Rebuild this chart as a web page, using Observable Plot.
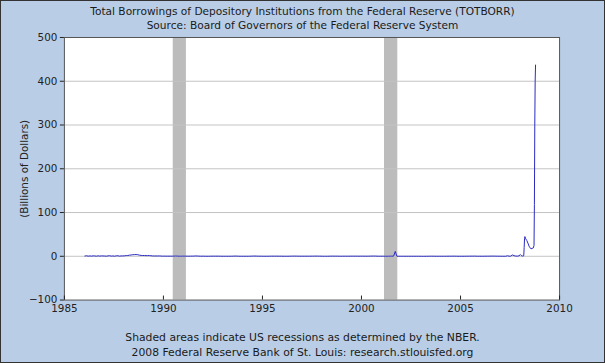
<!DOCTYPE html>
<html><head><meta charset="utf-8">
<script src="https://cdn.jsdelivr.net/npm/d3@7"></script>
<script src="https://cdn.jsdelivr.net/npm/@observablehq/plot@0.6"></script>
<style>
html,body{margin:0;padding:0;background:#fff;}
body{width:605px;height:363px;overflow:hidden;}
#wrap{position:relative;width:603px;height:361px;border:1px solid #333;background:#B9CEE6;font-family:"DejaVu Sans",sans-serif;color:#1a1a1a;}
.t{position:absolute;left:0;width:100%;text-align:center;line-height:12px;white-space:nowrap;}
#chart{position:absolute;left:-1px;top:29px;}
</style></head><body><div id="wrap">
<div class="t" style="top:4px;font-size:10.6px">Total Borrowings of Depository Institutions from the Federal Reserve (TOTBORR)</div>
<div class="t" style="top:18px;font-size:10.6px">Source: Board of Governors of the Federal Reserve System</div>
<div id="chart"></div>
<div class="t" style="top:331px;font-size:10.8px">Shaded areas indicate US recessions as determined by the NBER.</div>
<div class="t" style="top:346px;font-size:10.8px">2008 Federal Reserve Bank of St. Louis: research.stlouisfed.org</div>
</div>
<script>
// Monthly values (billions of dollars), 1986-2007
const histYears = [1986,1987,1988,1989,1990,1991,1992,1993,1994,1995,1996,1997,1998,1999,2000,2001,2002,2003,2004,2005,2006,2007];
const histValues = [
  [0.6,1.2,0.2,0.9,0.3,1.0,0.8,0.2,1.1,0.4,0.9,0.8],
  [0.6,0.2,0.9,1.3,0.4,0.8,0.2,1.0,1.2,0.3,0.9,0.8],
  [1.1,1.6,1.8,2.5,3.0,3.6,3.8,4.0,3.6,2.6,2.0,1.8],
  [1.7,1.5,1.6,1.6,1.3,0.8,0.7,0.7,0.7,0.8,0.6,0.3],
  [0.4,0.3,0.3,0.3,0.3,0.3,0.4,0.6,0.4,0.3,0.2,0.3],
  [0.4,0.3,0.3,0.2,0.3,0.4,0.4,0.8,0.6,0.4,0.2,0.2],
  [0.3,0.1,0.1,0.1,0.2,0.3,0.3,0.3,0.3,0.3,0.2,0.1],
  [0.1,0.1,0.1,0.1,0.1,0.2,0.3,0.5,0.4,0.2,0.1,0.1],
  [0.1,0.1,0.1,0.1,0.2,0.3,0.5,0.5,0.4,0.3,0.2,0.2],
  [0.1,0.1,0.1,0.1,0.2,0.3,0.3,0.3,0.3,0.3,0.2,0.3],
  [0.1,0.1,0.1,0.1,0.2,0.3,0.4,0.4,0.4,0.3,0.2,0.2],
  [0.2,0.2,0.2,0.2,0.2,0.3,0.3,0.4,0.4,0.4,0.3,0.3],
  [0.1,0.1,0.1,0.1,0.2,0.3,0.4,0.3,0.3,0.3,0.2,0.1],
  [0.2,0.2,0.2,0.2,0.2,0.3,0.3,0.3,0.3,0.3,0.2,0.3],
  [0.3,0.3,0.2,0.2,0.3,0.4,0.5,0.5,0.5,0.3,0.2,0.2],
  [0.2,0.2,0.1,0.1,0.2,0.3,0.3,0.3,11.1,0.1,0.1,0.1],
  [0.1,0.1,0.1,0.1,0.1,0.1,0.1,0.1,0.1,0.1,0.1,0.1],
  [0.0,0.0,0.0,0.1,0.1,0.2,0.2,0.2,0.1,0.1,0.1,0.1],
  [0.1,0.1,0.1,0.1,0.2,0.2,0.2,0.3,0.3,0.2,0.1,0.1],
  [0.1,0.1,0.1,0.2,0.2,0.3,0.3,0.3,0.4,0.3,0.1,0.2],
  [0.1,0.1,0.2,0.2,0.3,0.3,0.4,0.4,0.4,0.3,0.2,0.2],
  [0.1,0.1,0.1,0.1,1.2,0.3,0.3,3.0,1.5,0.5,0.4,1.0]
];
// Weekly values, 2008
const recentDates = ["2008-01-09","2008-01-23","2008-02-06","2008-02-20","2008-03-05","2008-03-12","2008-03-19","2008-03-26","2008-04-02","2008-04-16","2008-05-07","2008-05-28","2008-06-18","2008-07-09","2008-07-23","2008-08-13","2008-09-03","2008-09-17","2008-09-24","2008-10-01","2008-10-08","2008-10-15"];
const recentValues = [4,2,1,0.5,0.5,2.5,20,40,45,40,36,30,23,19,17,18,19,25,118,300,400,437];

const recStart = ["1990-07-01","2001-03-01"];
const recEnd   = ["1991-03-01","2001-11-01"];
const xTickYears = [1985,1990,1995,2000,2005,2010];
const yTicks = [-100,0,100,200,300,400,500];
const gridY = [0,100,200,300,400];

const data = [];
histYears.forEach((y,i)=>histValues[i].forEach((v,m)=>data.push({date:new Date(Date.UTC(y,m,15)),value:v})));
recentDates.forEach((d,i)=>data.push({date:new Date(d),value:recentValues[i]}));
const rec = recStart.map((s,i)=>({start:new Date(s),end:new Date(recEnd[i])}));
const xTicks = xTickYears.map(y=>new Date(Date.UTC(y,0,1)));

const chart = Plot.plot({
  width:605, height:290,
  marginTop:7, marginBottom:20, marginLeft:64, marginRight:45,
  style:{background:"transparent", fontFamily:"DejaVu Sans", fontSize:"10px", color:"#222", overflow:"visible"},
  x:{type:"utc", domain:[xTicks[0], xTicks[xTicks.length-1]]},
  y:{domain:[-100,500]},
  marks:[
    Plot.frame({fill:"white"}),
    Plot.rect(rec,{x1:"start",x2:"end",y1:-100,y2:500,fill:"#bcbcbc"}),
    Plot.ruleY(gridY,{stroke:"#c4c4c4",strokeWidth:1}),
    Plot.line(data,{x:"date",y:"value",stroke:"#2a2ac4",strokeWidth:1}),
    Plot.frame({stroke:"#555"}),
    Plot.axisY({ticks:yTicks, tickSize:4, tickPadding:3, label:"(Billions of Dollars)", labelAnchor:"center", labelOffset:44, labelArrow:"none", fontSize:"10.4px"}),
    Plot.axisX({ticks:xTicks, tickSize:-4, tickFormat:d3.utcFormat("%Y"), tickPadding:9, label:null, fontSize:"10.4px"})
  ]
});
document.getElementById("chart").appendChild(chart);
</script>
</body></html>
